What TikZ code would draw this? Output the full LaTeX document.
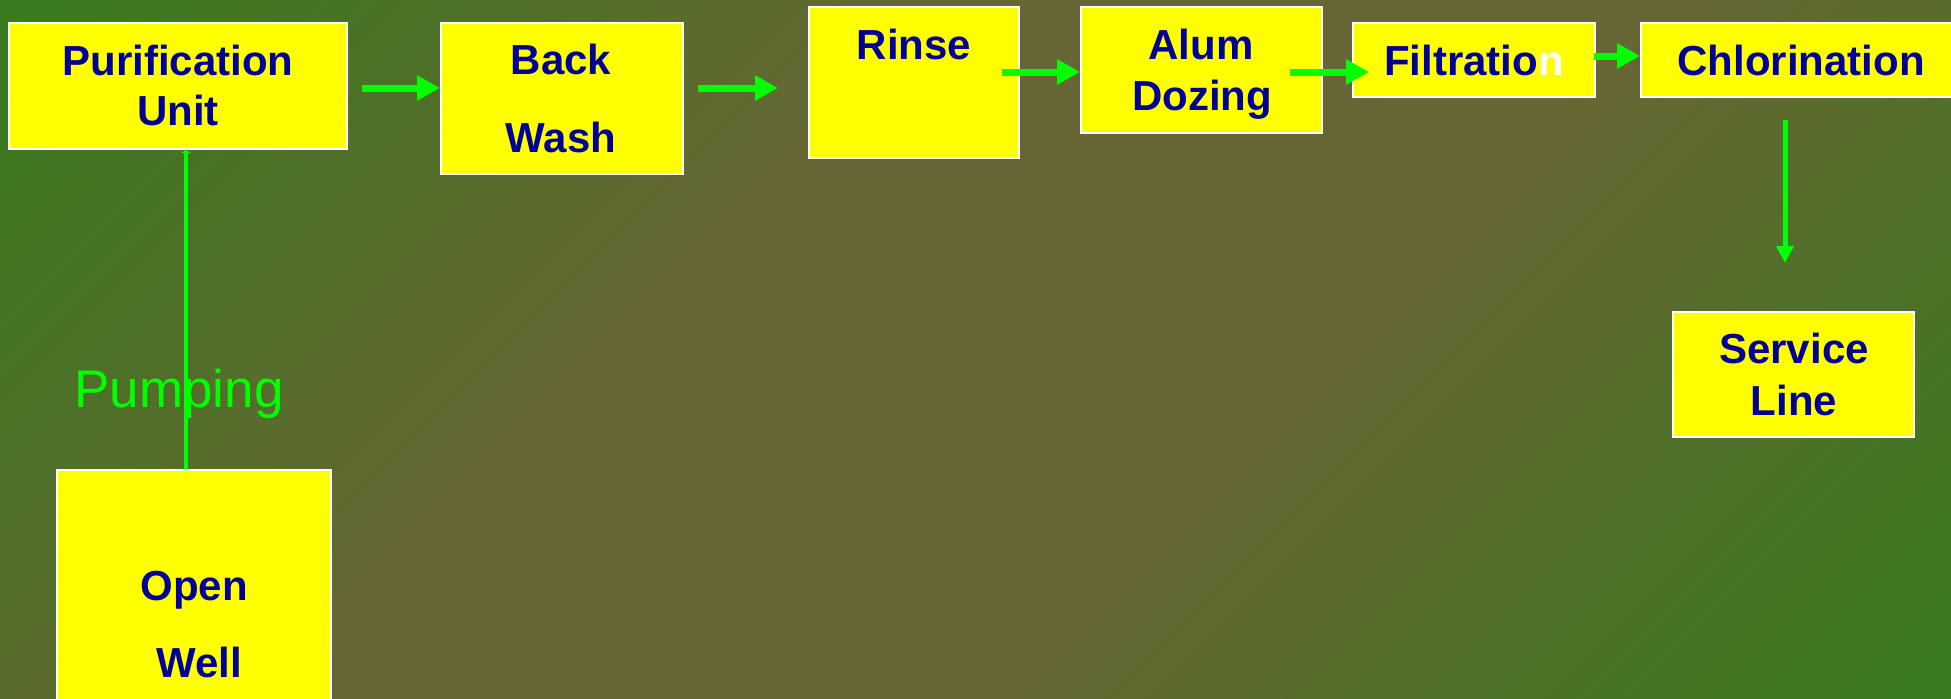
\documentclass[tikz,border=0pt]{standalone}
\usepackage{fontspec}
\setmainfont{Liberation Sans}
\usetikzlibrary{arrows.meta}
\definecolor{bggreen}{RGB}{56,122,30}
\definecolor{bgbrown}{RGB}{104,101,52}
\definecolor{boxtext}{RGB}{0,0,150}
\definecolor{boxfill}{RGB}{255,255,0}
\definecolor{flow}{RGB}{0,255,0}
\pgfdeclarehorizontalshading{bgsh}{100bp}{color(0bp)=(bggreen); color(30bp)=(bggreen); color(45bp)=(bgbrown); color(55bp)=(bgbrown); color(70bp)=(bggreen); color(100bp)=(bggreen)}
\begin{document}
\begin{tikzpicture}[x=0.5pt,y=-0.5pt,
  box/.style={draw=white, line width=1pt, fill=boxfill, inner sep=0pt, rectangle},
  boxtxt/.style={text=boxtext, font=\fontsize{21pt}{25pt}\selectfont\bfseries, anchor=base, inner sep=0pt},
  pumptxt/.style={text=flow, font=\fontsize{26.5pt}{30pt}\selectfont, anchor=base, inner sep=0pt},
  harrow/.style={draw=flow, line width=3.5pt, -{Triangle[length=11.5pt,width=12pt]}},
  varrow/.style={draw=flow, line width=2.5pt, -{Triangle[length=8.5pt,width=8.5pt]}},
  pumpline/.style={draw=flow, line width=2pt, -{Triangle[length=1.5pt,width=5pt]}}
]
\useasboundingbox (0,0) rectangle (1951,698);
\clip (0,0) rectangle (1951,698);
\shade[shading=bgsh, shading angle=-45] (-25,-951) rectangle (1975,1649);

% boxes
\node[box, minimum width=169pt, minimum height=63pt] (purif) at (178,86) {};
\node[box, minimum width=121pt, minimum height=75.5pt] (back) at (562,98.5) {};
\node[box, minimum width=105pt, minimum height=75.5pt] (rinse) at (914,82.5) {};
\node[box, minimum width=120.5pt, minimum height=63pt] (alum) at (1201.5,70) {};
\node[box, minimum width=121pt, minimum height=37pt] (filt) at (1474,60) {};
\node[box, minimum width=160pt, minimum height=37pt] (chlor) at (1801,60) {};
\node[box, minimum width=120.5pt, minimum height=62.5pt] (serv) at (1793.5,374.5) {};
\node[box, minimum width=137pt, minimum height=125pt] (well) at (194,595) {};

% texts
\node[boxtxt] (tpurif1) at (178,75) {Purification};
\node[boxtxt] (tpurif2) at (178,125) {Unit};
\node[boxtxt] (tback1) at (561,74) {Back};
\node[boxtxt] (tback2) at (561,152) {Wash};
\node[boxtxt] (trinse) at (914,59) {Rinse};
\node[boxtxt] (talum1) at (1201,59) {Alum};
\node[boxtxt] (talum2) at (1202,110) {Dozing};
\node[boxtxt] (tfilt) at (1474,75) {Filtratio\textcolor{white}{n}};
\node[boxtxt] (tchlor) at (1801,75) {Chlorination};
\node[boxtxt] (tserv1) at (1794,363) {Service};
\node[boxtxt] (tserv2) at (1794,415) {Line};
\node[boxtxt] (twell1) at (194,600) {Open};
\node[boxtxt] (twell2) at (199,677) {Well};
\node[pumptxt] (tpump) at (179,407) {Pumping};

% connectors
\coordinate (s1) at (362,88);
\draw[harrow] (s1) -- (s1 -| back.west);
\coordinate (s2) at (698,88);
\coordinate (e2) at (778,88);
\draw[harrow] (s2) -- (e2);
\coordinate (s3) at (1002,72);
\draw[harrow] (s3) -- (s3 -| alum.west);
\coordinate (s4) at (1290,72);
\coordinate (e4) at (1369,72);
\draw[harrow] (s4) -- (e4);
\coordinate (s5) at (1594,56);
\draw[harrow] (s5) -- (s5 -| chlor.west);
\coordinate (s6) at (1785,120);
\coordinate (e6) at (1785,263);
\draw[varrow] (s6) -- (e6);
\coordinate (px) at (186,0);
\draw[pumpline] (px |- well.north) -- (px |- purif.south);
\end{tikzpicture}
\end{document}
